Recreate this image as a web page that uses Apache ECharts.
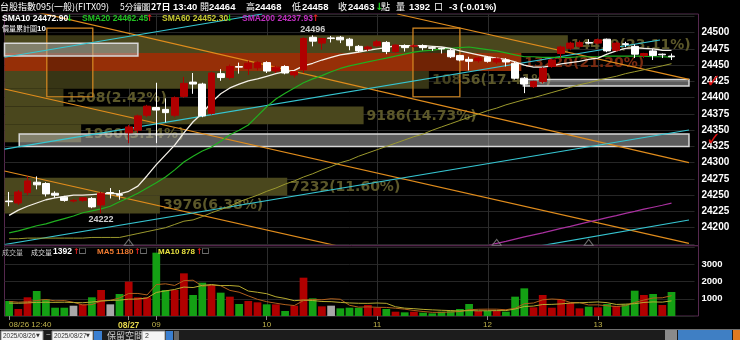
<!DOCTYPE html>
<html><head><meta charset="utf-8">
<style>html,body{margin:0;padding:0;background:#000;}#c{width:740px;height:340px;}</style>
<script src="https://cdn.jsdelivr.net/npm/echarts@6/dist/echarts.min.js"></script>
</head><body><div id="c"></div>
<script>
// ================= DATA =================
const times = [
 '08/26 12:40','08/26 12:45','08/26 12:50','08/26 12:55','08/26 13:00','08/26 13:05','08/26 13:10','08/26 13:15','08/26 13:20','08/26 13:25','08/26 13:30','08/26 13:35','08/26 13:40',
 '08/27 08:45','08/27 08:50','08/27 08:55','08/27 09:00','08/27 09:05','08/27 09:10','08/27 09:15','08/27 09:20','08/27 09:25','08/27 09:30','08/27 09:35','08/27 09:40','08/27 09:45','08/27 09:50','08/27 09:55',
 '08/27 10:00','08/27 10:05','08/27 10:10','08/27 10:15','08/27 10:20','08/27 10:25','08/27 10:30','08/27 10:35','08/27 10:40','08/27 10:45','08/27 10:50','08/27 10:55',
 '08/27 11:00','08/27 11:05','08/27 11:10','08/27 11:15','08/27 11:20','08/27 11:25','08/27 11:30','08/27 11:35','08/27 11:40','08/27 11:45','08/27 11:50','08/27 11:55',
 '08/27 12:00','08/27 12:05','08/27 12:10','08/27 12:15','08/27 12:20','08/27 12:25','08/27 12:30','08/27 12:35','08/27 12:40','08/27 12:45','08/27 12:50','08/27 12:55',
 '08/27 13:00','08/27 13:05','08/27 13:10','08/27 13:15','08/27 13:20','08/27 13:25','08/27 13:30','08/27 13:35','08/27 13:40'];
const emptySlots = [' ', '  '];

// [open, close, low, high]
const candles = [
 [24241,24240,24233,24255],[24238,24255,24235,24258],[24254,24272,24250,24279],[24270,24266,24259,24279],
 [24268,24252,24248,24270],[24253,24250,24246,24256],[24247,24242,24240,24249],[24241,24242,24239,24244],
 [24242,24246,24240,24247],[24245,24232,24230,24247],[24235,24253,24222,24255],[24254,24253,24245,24261],
 [24251,24250,24243,24258],[24346,24355,24330,24358],[24350,24372,24346,24374],[24373,24387,24370,24389],
 [24385,24381,24330,24423],[24382,24377,24362,24399],[24373,24400,24370,24402],[24402,24422,24400,24432],
 [24424,24421,24406,24438],[24421,24372,24370,24423],[24376,24438,24374,24440],[24437,24431,24426,24444],
 [24431,24448,24428,24451],[24448,24447,24437,24454],[24445,24453,24435,24457],[24446,24454,24442,24456],
 [24454,24441,24438,24456],[24441,24447,24438,24449],[24448,24438,24436,24450],[24435,24440,24431,24441],
 [24443,24491,24438,24493],[24493,24487,24479,24496],[24484,24491,24474,24492],[24492,24491,24485,24495],
 [24493,24489,24484,24495],[24490,24480,24473,24492],[24479,24472,24470,24481],[24475,24478,24472,24480],
 [24480,24486,24478,24489],[24485,24471,24467,24487],[24471,24481,24469,24482],[24480,24477,24471,24482],
 [24479,24480,24477,24482],[24480,24477,24473,24482],[24477,24476,24472,24479],[24476,24475,24468,24477],
 [24473,24463,24461,24475],[24465,24458,24456,24466],[24459,24456,24442,24463],[24457,24461,24454,24463],
 [24462,24456,24454,24464],[24455,24460,24452,24462],[24458,24455,24448,24461],[24453,24430,24428,24455],
 [24430,24421,24407,24432],[24417,24425,24415,24426],[24425,24445,24422,24447],[24448,24458,24446,24460],
 [24468,24478,24462,24480],[24476,24484,24473,24486],[24479,24485,24477,24488],[24485,24484,24482,24490],
 [24484,24489,24482,24491],[24490,24472,24470,24491],[24473,24484,24471,24486],[24483,24482,24478,24486],
 [24479,24467,24461,24482],[24465,24468,24461,24469],[24472,24465,24458,24475],[24467,24466,24461,24468],
 [24464,24463,24458,24468]];
const prevClose = 24243;

const volumes = [870,406,1085,1451,969,482,482,598,677,1085,1509,677,1277,1993,1085,1085,3675,1509,1509,2476,
 1219,1935,1799,1354,1122,696,870,793,677,677,290,600,2224,1025,561,600,445,482,482,638,
 482,406,250,213,250,193,155,250,309,406,696,290,290,290,250,1122,1605,503,1219,482,
 967,774,445,542,503,696,580,677,1470,1219,1277,638,1392];
const volMA5 = [850,800,830,900,956,879,894,796,642,665,870,909,1045,1308,1308,1223,1823,1869,1773,2051,
 2078,1730,1788,1757,1486,1381,1168,967,832,743,661,607,894,963,940,1002,971,623,514,529,
 506,498,452,398,320,262,212,212,231,263,363,390,398,394,363,448,711,754,940,986,
 955,789,777,642,646,592,553,600,785,928,1045,1056,1180];
const volMA10 = [750,740,760,790,800,790,800,780,770,811,874,902,921,975,987,1047,1366,1457,1540,1680,
 1651,1776,1829,1765,1768,1729,1449,1377,1294,1114,1021,888,930,897,841,832,789,758,739,735,
 754,735,537,456,425,384,355,332,315,291,313,301,305,313,313,406,551,576,667,675,
 702,750,766,791,816,774,671,689,714,787,818,805,878];

const sma10 = [24219,24227,24233,24238,24243,24246,24248,24250,24250,24251,24252,24253,24252,24256,24264,24280,24297,24312,24327,24346,
 24363,24376,24393,24406,24415,24421,24426,24429,24433,24437,24440,24442,24449,24453,24458,24462,24466,24468,24470,24473,
 24475,24477,24480,24480,24480,24480,24479,24478,24476,24472,24469,24466,24463,24461,24459,24455,24450,24447,24447,24449,
 24452,24454,24456,24459,24461,24467,24472,24476,24477,24476,24475,24473,24472.9];
const sma20 = [24192,24195,24199,24203,24206,24210,24214,24218,24223,24226,24229,24233,24240,24246,24253,24261,24269,24278,24289,24301,
 24310,24318,24324,24333,24343,24350,24358,24372,24386,24398,24407,24415,24423,24429,24434,24440,24445,24449,24452,24455,
 24458,24461,24464,24467,24470,24472,24473,24475,24476,24477,24478,24476,24474,24472,24469,24466,24463,24463,24462,24462,
 24462,24462,24463,24463,24463,24464,24464,24464,24464,24464,24463,24463,24462.45];
const sma60 = [24183,24183,24184,24184,24184,24184,24184,24184,24184,24185,24185,24185,24185,
 24188,24191,24194,24197,24200,24205,24210,24212,24217,24223,24228,24233,24240,24245,24250,24256,24261,24267,24272,24278,
 24283,24289,24294,24300,24304,24310,24315,24320,24325,24330,24335,24340,24344,24350,24355,24360,24365,24370,24375,24380,
 24384,24389,24393,24397,24400,24404,24408,24412,24416,24420,24423,24427,24430,24433,24437,24440,24443,24446,24449,24452.3];
const sma200 = [null,null,null,null,null,null,null,null,null,null,null,null,null,null,null,null,null,null,null,null,
 null,null,null,null,null,null,null,null,null,null,null,null,null,null,null,null,null,null,null,null,
 null,null,null,null,null,null,null,null,null,null,
 24166,24169,24172.5,24176,24179,24182.5,24186,24189,24192,24195.5,24199,24202,24205.5,24209,24212,24215.5,24218.5,24222,24225,24228.5,24231.5,24234.5,24237.93];

// price-volume profile, bottom band to top band
const profileVols = [3976,7232,0,0,1960,9186,1508,10856,13220,14410];
const profileRange = [24222,24496];

const priceTicks = [24200,24225,24250,24275,24300,24325,24350,24375,24400,24425,24450,24475,24500];
const volTicks = [1000,2000,3000];
const timeTicks = {0:'08/26 12:40',13:'08/27',16:'09',28:'10',40:'11',52:'12',64:'13'};

// drawn objects in (bar index, price)
const orangeLines = [
 [[-0.5,24543.2],[73.9,24300.2]],
 [[42.2,24528.8],[73.9,24428.3]],
 [[-0.5,24287.2],[35.75,24171.8]],
 [[-0.5,24413.4],[73.9,24176.0]]];
const cyanLines = [
 [[-0.5,24462.2],[27.5,24528.8]],
 [[-0.5,24321.0],[70.75,24488.8]],
 [[-0.5,24174.2],[73.9,24350.3]],
 [[57.2,24170.8],[73.9,24211.8]]];
const zoneBoxes = [ // [i0, i1, low, high]
 [-0.5,14.0,24464.2,24483.7],
 [1.1,73.9,24324.8,24344.3],
 [55.9,73.9,24418.0,24428.0]];
const timeBoxes = [
 [4.1,9.1,24401.5,24507.0],
 [43.9,49.0,24401.5,24507.0]];
const sessionMarks = [13,53,63];

// ================= CHART =================
const cats = times.concat(emptySlots);
const N = cats.length;
const L = 4.5, W = 690;
const yMin = 24175, yMax = 24528.77;
const FONT = '"Liberation Sans", Arial, sans-serif';
const CJK = '"Noto Sans CJK TC", sans-serif';
const RED = '#b00000', GREEN = '#14a014', GRAY = '#a8a8a8';

const closes = candles.map(c => c[1]);
const volColor = volumes.map((v, i) => {
  const pc = i === 0 ? prevClose : closes[i - 1];
  return closes[i] > pc ? RED : (closes[i] < pc ? GREEN : GRAY);
});
let hiIdx = 0, loIdx = 0;
candles.forEach((c, i) => { if (c[3] > candles[hiIdx][3]) hiIdx = i; if (c[2] < candles[loIdx][2]) loIdx = i; });
const step = (profileRange[1] - profileRange[0]) / profileVols.length;
const totalVol = profileVols.reduce((a, b) => a + b, 0);
const lastClose = closes[closes.length - 1];
const gridIdx = Object.keys(timeTicks).map(Number).filter(i => i > 0);

function vgrid(xi, yi) {
  return {type: 'custom', xAxisIndex: xi, yAxisIndex: yi, z: 0, silent: true,
    data: gridIdx.map(i => [i]), encode: {x: 0},
    renderItem(params, api) {
      const cs = params.coordSys;
      const x = Math.round(api.coord([api.value(0), 0])[0]) + 0.5;
      return {type: 'line', shape: {x1: x, y1: cs.y, x2: x, y2: cs.y + cs.height},
        style: {stroke: '#2c2c2c', lineWidth: 1}};
    }};
}
function trend(pts, color) {
  return {type: 'line', xAxisIndex: 1, yAxisIndex: 0, data: pts, symbol: 'none', z: 4, silent: true,
    clip: true, lineStyle: {color: color, width: 1.2}, animation: false};
}
function txt(x, y, text, color, size, bold, family) {
  return {type: 'text', x: x, y: y, silent: true, z: 100,
    style: {text: text, fill: color, fontSize: size, fontWeight: bold ? 'bold' : 'normal',
      fontFamily: family || FONT, verticalAlign: 'middle'}};
}

const series = [
  vgrid(0, 0), vgrid(3, 1),
  { // price-volume profile
    type: 'custom', xAxisIndex: 2, yAxisIndex: 0, z: 1, silent: true,
    data: profileVols.map((v, k) => [v, profileRange[0] + k * step, profileRange[0] + (k + 1) * step]),
    encode: {x: 0, y: [1, 2]},
    renderItem(params, api) {
      const v = api.value(0), lo = api.value(1), hi = api.value(2);
      if (!v) return null;
      const a = api.coord([0, hi]), b = api.coord([v, lo]);
      const cur = lastClose >= lo && lastClose < hi;
      return {type: 'group', children: [
        {type: 'rect', shape: {x: a[0], y: a[1], width: b[0] - a[0], height: b[1] - a[1]},
          style: {fill: cur ? '#962f07' : '#4a471d'}},
        {type: 'text', style: {text: v + '(' + (v / totalVol * 100).toFixed(2) + '%)', x: b[0] + 3, y: (a[1] + b[1]) / 2 + 1,
          verticalAlign: 'middle', fill: cur ? '#7a2a10' : '#5c582a', fontSize: 14, fontWeight: 'bold', fontFamily: '"DejaVu Sans", sans-serif'}}
      ]};
    }},
  { // time boxes
    type: 'custom', xAxisIndex: 1, yAxisIndex: 0, z: 2, silent: true,
    data: timeBoxes, encode: {x: [0, 1], y: [2, 3]},
    renderItem(params, api) {
      const a = api.coord([api.value(0), api.value(3)]), b = api.coord([api.value(1), api.value(2)]);
      return {type: 'rect', shape: {x: a[0], y: a[1], width: b[0] - a[0], height: b[1] - a[1]},
        style: {fill: 'rgba(0,0,0,0.25)', stroke: '#d88a22', lineWidth: 1.2}};
    }},
  { // zone boxes
    type: 'custom', xAxisIndex: 1, yAxisIndex: 0, z: 3, silent: true,
    data: zoneBoxes, encode: {x: [0, 1], y: [2, 3]},
    renderItem(params, api) {
      const cs = params.coordSys;
      const a = api.coord([api.value(0), api.value(3)]), b = api.coord([api.value(1), api.value(2)]);
      const ch = [{type: 'rect', shape: {x: a[0], y: a[1], width: b[0] - a[0], height: b[1] - a[1]},
        style: {fill: 'rgba(185,185,185,0.5)', stroke: '#d8d8d8', lineWidth: 1.5}}];
      if (b[0] > cs.x + cs.width - 20) {
        ch.push({type: 'text', style: {text: '✓', x: cs.x + cs.width + 19, y: (a[1] + b[1]) / 2, align: 'center',
          verticalAlign: 'middle', fill: '#e01010', fontSize: 18, fontWeight: 'normal', fontFamily: '"DejaVu Sans"'}});
      }
      return {type: 'group', children: ch};
    }},
].concat(orangeLines.map(p => trend(p, '#e08c1c')), cyanLines.map(p => trend(p, '#36c6d2')), [
  {type: 'line', name: 'SMA60', xAxisIndex: 0, yAxisIndex: 0, data: sma60, symbol: 'none', z: 5, lineStyle: {color: '#9c9a2e', width: 1}},
  {type: 'line', name: 'SMA200', xAxisIndex: 0, yAxisIndex: 0, data: sma200, symbol: 'none', z: 5, lineStyle: {color: '#a8309e', width: 1.2}},
  {type: 'line', name: 'SMA20', xAxisIndex: 0, yAxisIndex: 0, data: sma20, symbol: 'none', z: 5, lineStyle: {color: '#20b020', width: 1.2}},
  {type: 'line', name: 'SMA10', xAxisIndex: 0, yAxisIndex: 0, data: sma10, symbol: 'none', z: 5, lineStyle: {color: '#f4f0e8', width: 1.3}},
  {type: 'candlestick', xAxisIndex: 0, yAxisIndex: 0, data: candles, barWidth: '80%', z: 6,
    itemStyle: {color: RED, color0: '#ffffff', borderColor: RED, borderColor0: '#ffffff', borderWidth: 1}},
  {type: 'scatter', xAxisIndex: 0, yAxisIndex: 0, z: 7, silent: true, symbolSize: 1,
    itemStyle: {color: 'rgba(0,0,0,0)'},
    data: [{value: [hiIdx, candles[hiIdx][3]], label: {position: 'top'}},
           {value: [loIdx, candles[loIdx][2]], label: {position: 'bottom'}}],
    label: {show: true, distance: 1, formatter: p => p.value[1], color: '#fff', fontSize: 9, fontWeight: 'bold', fontFamily: FONT}},
  {type: 'scatter', xAxisIndex: 0, yAxisIndex: 0, z: 7, silent: true, symbol: 'triangle', symbolSize: [9, 6],
    data: sessionMarks.map(i => [i, yMin + 2.5]),
    itemStyle: {color: 'rgba(0,0,0,0)', borderColor: '#8a8a8a', borderWidth: 1}},
  {type: 'bar', xAxisIndex: 3, yAxisIndex: 1, barWidth: '84%', z: 3,
    data: volumes.map((v, i) => ({value: v, itemStyle: {color: volColor[i]}}))},
  {type: 'line', xAxisIndex: 3, yAxisIndex: 1, data: volMA5, symbol: 'none', z: 4, lineStyle: {color: '#b0601c', width: 1}},
  {type: 'line', xAxisIndex: 3, yAxisIndex: 1, data: volMA10, symbol: 'none', z: 4, lineStyle: {color: '#b8ac30', width: 1}}
]);

const tickShow = (i) => timeTicks[i] !== undefined;

const option = {
  backgroundColor: '#000',
  animation: false,
  grid: [
    {left: L, top: 14, width: W, height: (yMax - yMin) * 0.65, show: false},
    {left: L, top: 247, width: W, height: 69, show: false},
    {left: L, top: 14, width: 694, height: 231.7, show: true, borderColor: '#55284e', borderWidth: 1, backgroundColor: 'transparent'},
    {left: L, top: 245.7, width: 694, height: 70.3, show: true, borderColor: '#55284e', borderWidth: 1, backgroundColor: 'transparent'}
  ],
  xAxis: [
    {type: 'category', gridIndex: 0, data: cats, boundaryGap: true, axisLine: {show: false}, axisTick: {show: false}, axisLabel: {show: false}, splitLine: {show: false}},
    {type: 'value', gridIndex: 0, min: -0.5, max: N - 0.5, show: false},
    {type: 'value', gridIndex: 0, min: 0, max: 17650, show: false},
    {type: 'category', gridIndex: 1, data: cats, boundaryGap: true, axisLine: {show: false},
      axisTick: {show: true, interval: tickShow, alignWithLabel: true, length: 4, lineStyle: {color: '#8a8a8a'}},
      axisLabel: {show: true, interval: tickShow, margin: 5, alignMinLabel: 'left', fontSize: 8, fontFamily: FONT, color: '#c0b44c',
        formatter: (v, i) => i === 13 ? '{d|' + timeTicks[i] + '}' : (timeTicks[i] || ''),
        rich: {d: {fontSize: 8.5, fontWeight: 'bold', color: '#e6d84c', fontFamily: FONT}}},
      splitLine: {show: false}},
    {type: 'value', gridIndex: 2, show: false},
    {type: 'value', gridIndex: 3, show: false}
  ],
  yAxis: [
    {type: 'value', gridIndex: 0, position: 'right', min: yMin, max: yMax, interval: 25,
      axisLine: {show: false}, axisTick: {show: false},
      axisLabel: {margin: 7, color: '#fff', fontSize: 10, fontWeight: 'bold', fontFamily: FONT,
        formatter: v => priceTicks.indexOf(v) >= 0 ? String(v) : ''},
      splitLine: {show: true, lineStyle: {color: '#262626', width: 1}}},
    {type: 'value', gridIndex: 1, position: 'right', min: 0, max: 4005, interval: 1000,
      axisLine: {show: false}, axisTick: {show: false},
      axisLabel: {margin: 7, color: '#fff', fontSize: 9.5, fontWeight: 'bold', fontFamily: FONT,
        formatter: v => volTicks.indexOf(v) >= 0 ? String(v) : ''},
      splitLine: {show: true, lineStyle: {color: '#262626', width: 1}}},
    {type: 'value', gridIndex: 2, show: false},
    {type: 'value', gridIndex: 3, show: false}
  ],
  series: series,
  graphic: [
    // title row
    txt(0, 7, '台股指數095(一般)(FITX09)', '#fff', 9, false, CJK),
    txt(120, 7, '5分鐘圖', '#fff', 8.5, false, CJK),
    txt(151, 7, '27日', '#fff', 9, true, CJK),
    txt(173, 7, '13:40', '#fff', 9.5, true),
    txt(200, 7, '開', '#fff', 9, false, CJK), txt(209, 7, '24464', '#fff', 9.5, true),
    txt(246, 7, '高', '#fff', 9, false, CJK), txt(255, 7, '24468', '#fff', 9.5, true),
    txt(292, 7, '低', '#fff', 9, false, CJK), txt(302, 7, '24458', '#fff', 9.5, true),
    txt(338, 7, '收', '#fff', 9, false, CJK), txt(348, 7, '24463', '#fff', 9.5, true),
    txt(375, 7, '↓', '#22d022', 10, true, '"DejaVu Sans"'), txt(381, 7, '點', '#fff', 9, false, CJK),
    txt(396, 7, '量', '#fff', 9, false, CJK), txt(409, 7, '1392', '#fff', 9.5, true), txt(434, 7, '口', '#fff', 9, false, CJK),
    txt(449, 7, '-3 (-0.01%)', '#fff', 9.5, true),
    // SMA legend row
    txt(2, 19, 'SMA10 24472.90', '#fff', 8.5, true), txt(66, 19, '↓', '#22d022', 9, true, '"DejaVu Sans"'),
    txt(82, 19, 'SMA20 24462.45', '#22c022', 8.5, true), txt(146, 19, '↑', '#e02020', 9, true, '"DejaVu Sans"'),
    txt(162, 19, 'SMA60 24452.30', '#c8c832', 8.5, true), txt(226, 19, '↓', '#22d022', 9, true, '"DejaVu Sans"'),
    txt(242, 19, 'SMA200 24237.93', '#c030c0', 8.5, true), txt(312, 19, '↑', '#e02020', 9, true, '"DejaVu Sans"'),
    txt(2, 28.5, '價量累計圖', '#fff', 7, false, CJK), txt(37, 28.5, '10', '#fff', 8, true),
    // volume header
    txt(2, 252, '成交量', '#bbbbbb', 7, false, CJK), txt(31, 252, '成交量', '#dddddd', 7, false, CJK),
    txt(53, 252, '1392', '#fff', 8.5, true), txt(73, 252, '↑', '#e02020', 8, true, '"DejaVu Sans"'),
    txt(79, 252, '☐', '#cccccc', 8, false, '"DejaVu Sans"'),
    txt(97, 252, 'MA5 1180', '#f07a30', 8, true), txt(134, 252, '↑', '#e02020', 8, true, '"DejaVu Sans"'),
    txt(140, 252, '☐', '#cccccc', 8, false, '"DejaVu Sans"'),
    txt(158, 252, 'MA10 878', '#e8e040', 8, true), txt(196, 252, '↑', '#e02020', 8, true, '"DejaVu Sans"'),
    txt(202, 252, '☐', '#cccccc', 8, false, '"DejaVu Sans"'),
    // bottom control bar
    {type: 'rect', shape: {x: 0, y: 329, width: 740, height: 11}, style: {fill: '#1c1c1c'}, silent: true, z: 90},
    {type: 'line', shape: {x1: 0, y1: 329.5, x2: 740, y2: 329.5}, style: {stroke: '#707070', lineWidth: 1}, silent: true, z: 91},
    {type: 'rect', shape: {x: 1, y: 331, width: 42, height: 10}, style: {fill: '#f4f4f4', stroke: '#888'}, z: 92, silent: true},
    txt(3, 336, '2025/08/26', '#333', 6.5, false), txt(36, 336, '▼', '#333', 5, false, '"DejaVu Sans"'),
    txt(46, 335, '~', '#ddd', 8, false),
    {type: 'rect', shape: {x: 52, y: 331, width: 41, height: 10}, style: {fill: '#f4f4f4', stroke: '#888'}, z: 92, silent: true},
    txt(54, 336, '2025/08/27', '#333', 6.5, false), txt(86, 336, '▼', '#333', 5, false, '"DejaVu Sans"'),
    {type: 'rect', shape: {x: 94, y: 331, width: 8, height: 10}, style: {fill: '#3b7fd0'}, z: 92, silent: true},
    txt(107, 336, '保留空間', '#cfcfcf', 9, false, CJK),
    {type: 'rect', shape: {x: 142, y: 331, width: 23, height: 10}, style: {fill: '#f4f4f4', stroke: '#888'}, z: 92, silent: true},
    txt(145, 336, '2', '#333', 7, false),
    {type: 'rect', shape: {x: 166, y: 331, width: 7, height: 10}, style: {fill: '#3b7fd0'}, z: 92, silent: true},
    {type: 'rect', shape: {x: 174, y: 331, width: 5, height: 10}, style: {fill: '#666'}, z: 92, silent: true},
    {type: 'rect', shape: {x: 665, y: 330, width: 12, height: 10}, style: {fill: '#8a8a8a'}, z: 92, silent: true},
    {type: 'rect', shape: {x: 678, y: 330, width: 54, height: 10}, style: {fill: '#3f7fc4'}, z: 92, silent: true},
    {type: 'rect', shape: {x: 733, y: 330, width: 7, height: 10}, style: {fill: '#e07a20'}, z: 92, silent: true}
  ]
};
const chart = echarts.init(document.getElementById('c'));
chart.setOption(option);
</script></body></html>
